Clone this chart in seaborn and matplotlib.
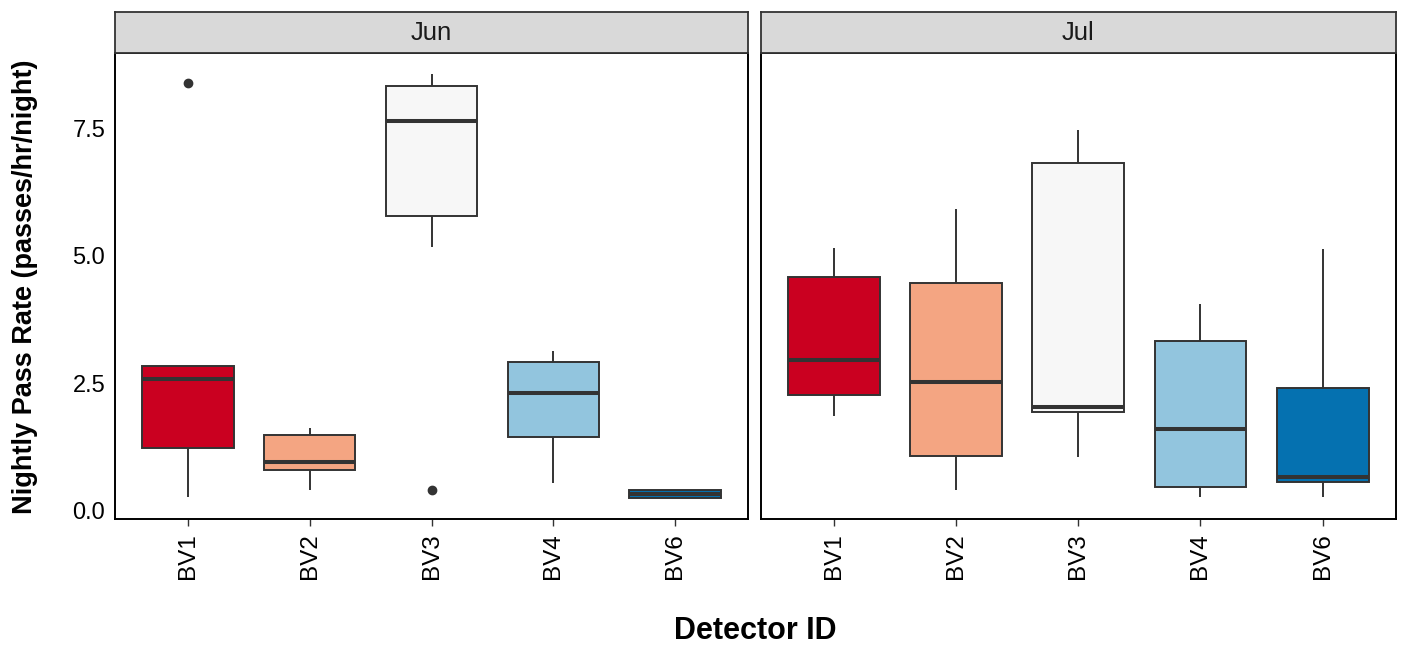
import numpy as np
import pandas as pd
import matplotlib
matplotlib.use("Agg")
import matplotlib.pyplot as plt
import seaborn as sns

# Nightly pass rates (passes/hr/night) per detector and month
detectors = ["BV1", "BV2", "BV3", "BV4", "BV6"]
months = ["Jun", "Jul"]

jun_bv1 = [0.267, 1.219, 2.586, 2.842, 8.392]
jun_bv2 = [0.399, 0.798, 0.949, 1.474, 1.623]
jun_bv3 = [0.399, 5.175, 5.784, 6.800, 7.651, 8.000, 8.325, 8.450, 8.555]
jun_bv4 = [0.542, 1.447, 2.300, 2.909, 3.131]
jun_bv6 = [0.248, 0.248, 0.326, 0.405, 0.405]

jul_bv1 = [1.853, 2.266, 2.960, 4.579, 5.149]
jul_bv2 = [0.399, 1.061, 2.527, 4.461, 5.916]
jul_bv3 = [1.053, 1.932, 2.036, 6.812, 7.474]
jul_bv4 = [0.267, 0.458, 1.598, 3.327, 4.049]
jul_bv6 = [0.267, 0.562, 0.661, 2.404, 5.130]

palette = ["#CA0020", "#F4A582", "#F7F7F7", "#92C5DE", "#0571B0"]

series = {
    ("Jun", "BV1"): jun_bv1, ("Jun", "BV2"): jun_bv2, ("Jun", "BV3"): jun_bv3,
    ("Jun", "BV4"): jun_bv4, ("Jun", "BV6"): jun_bv6,
    ("Jul", "BV1"): jul_bv1, ("Jul", "BV2"): jul_bv2, ("Jul", "BV3"): jul_bv3,
    ("Jul", "BV4"): jul_bv4, ("Jul", "BV6"): jul_bv6,
}
rows = [(m, d, v) for (m, d), vals in series.items() for v in vals]
df = pd.DataFrame(rows, columns=["month", "detector", "rate"])

sns.set_theme(style="white")
plt.rcParams["font.family"] = ["Liberation Sans", "DejaVu Sans"]
plt.rcParams["text.color"] = "black"

W, H = 1401, 646
fig = plt.figure(figsize=(W / 100, H / 100), dpi=100)

panel_bottom = 1 - 519 / H
panel_top = 1 - 53.3 / H
strip_top = 1 - 11.7 / H
panels = [(115 / W, 748 / W), (760.5 / W, 1396 / W)]

line_col = "#333333"
for i, (month, (x0, x1)) in enumerate(zip(months, panels)):
    ax = fig.add_axes([x0, panel_bottom, x1 - x0, panel_top - panel_bottom])
    sub = df[df["month"] == month]
    sns.boxplot(
        data=sub, x="detector", y="rate", hue="detector", order=detectors,
        hue_order=detectors, palette=palette, saturation=1, legend=False,
        width=0.75, linecolor=line_col, linewidth=1.4, showcaps=False,
        medianprops={"linewidth": 2.9, "color": line_col},
        flierprops={"marker": "o", "markerfacecolor": line_col,
                    "markeredgecolor": line_col, "markersize": 6},
        ax=ax,
    )
    ax.set_xlim(-0.6, 4.6)
    ax.set_ylim(-0.167, 8.97)
    ax.set_xlabel("")
    ax.set_ylabel("")
    ax.set_xticks(range(len(detectors)))
    ax.set_xticklabels(detectors, rotation=90, fontsize=17.5, color="black")
    ax.set_yticks([0, 2.5, 5.0, 7.5])
    if i == 0:
        ax.set_yticklabels(["0.0", "2.5", "5.0", "7.5"], fontsize=17,
                           color="black")
        ax.tick_params(axis="y", length=5, width=1.0, color=line_col, pad=2)
    else:
        ax.tick_params(axis="y", left=False, labelleft=False)
    ax.tick_params(axis="x", bottom=True, length=5, width=1.0, color=line_col, pad=5)
    for sp in ax.spines.values():
        sp.set_color("black")
        sp.set_linewidth(1.4)
    ax.grid(False)

    # facet strip
    sax = fig.add_axes([x0, panel_top, x1 - x0, strip_top - panel_top])
    sax.set_xticks([])
    sax.set_yticks([])
    sax.set_facecolor("#D9D9D9")
    for sp in sax.spines.values():
        sp.set_color(line_col)
        sp.set_linewidth(1.3)
    sax.text(0.5, 0.48, month, ha="center", va="center", fontsize=18.5,
             color="#1A1A1A", transform=sax.transAxes)

fig.text(755 / W, 1 - 631 / H, "Detector ID", ha="center", va="center",
         fontsize=22, fontweight="bold", color="black")
fig.text(25 / W, 1 - 287 / H, "Nightly Pass Rate (passes/hr/night)",
         ha="center", va="center", rotation=90, fontsize=19.5,
         fontweight="bold", color="black")

fig.savefig("out.png", dpi=100, facecolor="white")
